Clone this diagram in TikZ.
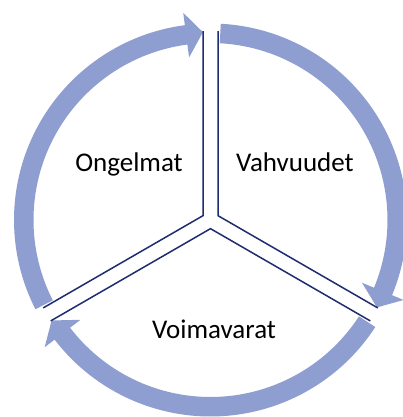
\documentclass[tikz,border=0pt]{standalone}
\usepackage{fontspec}
\setmainfont{Carlito}
\usetikzlibrary{calc}
\definecolor{bandblue}{RGB}{142,158,208}
\definecolor{navy}{RGB}{30,44,112}
\tikzset{
  band/.style={fill=bandblue, draw=none},
  divider/.style={draw=navy, line width=1.5pt, line join=miter},
  label/.style={font=\fontsize{27}{30}\selectfont, text=black, anchor=base, inner sep=0pt}
}
\begin{document}
\begin{tikzpicture}[x=1pt,y=1pt]
  % image: centre at (210.5,220), y up
  \useasboundingbox[fill=white] (-210.5,-197) rectangle (191.5,220);
  % three circular arrows (clockwise)
  \foreach \as/\ab/\at in {207/97.5/92.3, 87/-22.5/-27.7, -33/-142.5/-147.7}{
    \fill[band] (\as:177) arc[start angle=\as, end angle=\ab, radius=177]
      -- (\ab:164) -- (\at:188) -- (\ab:209) -- (\ab:196.5)
      arc[start angle=\ab, end angle=\as, radius=196.5] -- cycle;
  }
  % Y-shaped double dividers
  \foreach \r in {0,120,240}{
    \begin{scope}[rotate=\r]
      \draw[divider] ($(90:188.85)+(180:7.5)$) -- (150:8.66) -- ($(210:188.85)+(120:7.5)$);
    \end{scope}
  }
  \node[label] (ongelmat) at (-81.5,48.5) {Ongelmat};
  \node[label] (vahvuudet) at (84.5,48.5) {Vahvuudet};
  \node[label] (voimavarat) at (3.5,-118) {Voimavarat};
\end{tikzpicture}
\end{document}
